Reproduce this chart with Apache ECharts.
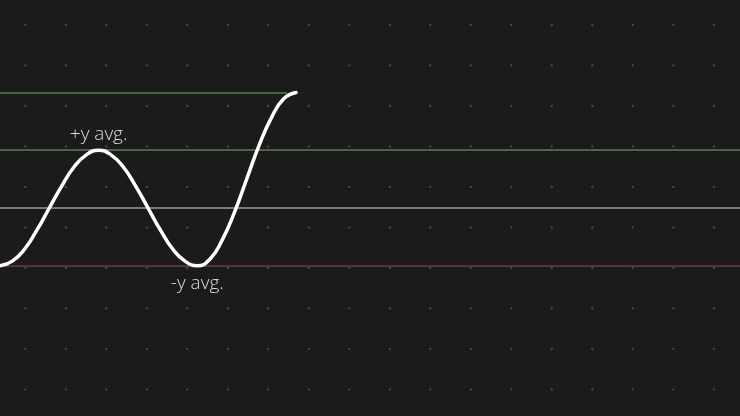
<!DOCTYPE html>
<html>
<head>
<meta charset="utf-8">
<script src="https://cdn.jsdelivr.net/npm/echarts@6/dist/echarts.min.js"></script>
<style>
  html, body { margin: 0; padding: 0; background: #1b1b1b; }
  #main { width: 740px; height: 416px; }
</style>
</head>
<body>
<div id="main"></div>
<script>
// Curve (x in periods/2, y in avg units)
const curveX = [0, 0.125, 0.25, 0.375, 0.5, 0.625, 0.75, 0.875, 1,
  1.125, 1.25, 1.375, 1.5, 1.625, 1.75, 1.875, 2,
  2.125, 2.25, 2.375, 2.5, 2.625, 2.75, 2.875, 3];
const curveY = [-1, -0.92, -0.71, -0.38, 0, 0.38, 0.71, 0.92, 1,
  0.92, 0.71, 0.38, 0, -0.38, -0.71, -0.92, -1,
  -0.89, -0.56, -0.08, 0.5, 1.08, 1.56, 1.89, 2];

// Reference lines
const maxLine = { y: 2, xEnd: 2.91 };
const avgLevels = [1, 0, -1];
const avgColors = ["#5b7f52", "#9a9a9a", "#6b3c3e"];

// Labels
const labelTexts = ["+y avg.", "-y avg."];
const labelPoints = [[1, 1], [2, -1]];

// Dot grid background
const pattern = document.createElement("canvas");
pattern.width = 81;
pattern.height = 81;
const ctx = pattern.getContext("2d");
ctx.fillStyle = "#1b1b1b";
ctx.fillRect(0, 0, 81, 81);
ctx.fillStyle = "#4a4a4a";
[[25.3, 25], [65.8, 25], [25.3, 65.5], [65.8, 65.5]].forEach(([px, py]) => {
  ctx.beginPath();
  ctx.arc(px, py, 1.15, 0, Math.PI * 2);
  ctx.fill();
});

const chart = echarts.init(document.getElementById("main"));

const option = {
  backgroundColor: { image: pattern, repeat: "repeat" },
  animation: false,
  grid: { left: 0, right: 0, top: 0, bottom: 0 },
  xAxis: { type: "value", min: 0, max: 7.5, show: false },
  yAxis: { type: "value", min: -3.6, max: 3.6, show: false },
  series: [
    {
      type: "line",
      data: curveX.map((x, i) => [x, curveY[i]]),
      smooth: true,
      showSymbol: false,
      z: 5,
      lineStyle: { color: "#ffffff", width: 3.5, cap: "round" },
      markLine: {
        silent: true,
        symbol: "none",
        label: { show: false },
        data: [
          ...avgLevels.map((v, i) => ({
            yAxis: v,
            lineStyle: { color: avgColors[i], width: 1.5, type: "solid" },
          })),
          [
            { coord: [0, maxLine.y], lineStyle: { color: "#4f8a3e", width: 1.5, type: "solid" } },
            { coord: [maxLine.xEnd, maxLine.y] },
          ],
        ],
      },
      markPoint: {
        silent: true,
        symbol: "circle",
        symbolSize: 0,
        data: labelPoints.map((p, i) => ({
          coord: p,
          label: {
            show: true,
            formatter: labelTexts[i],
            position: i === 0 ? "top" : "bottom",
            distance: i === 0 ? 6 : 8,
            color: "#dcdcdc",
            fontFamily: "Open Sans",
            fontWeight: 300,
            fontSize: 19,
          },
        })),
      },
    },
  ],
};

chart.setOption(option);
window.addEventListener("resize", () => chart.resize());
</script>
</body>
</html>
